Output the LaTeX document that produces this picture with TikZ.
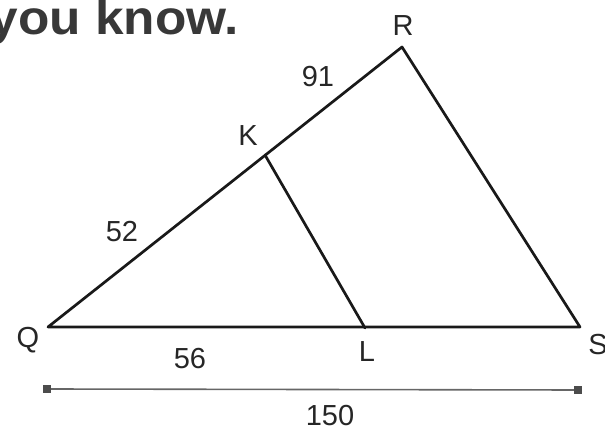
\documentclass[tikz,border=0pt]{standalone}
\usepackage{graphicx}
\usepackage{fontspec}
\setmainfont{Liberation Sans}
\begin{document}
\begin{tikzpicture}[x=1pt,y=-1pt,
  edge/.style={line width=2.7pt,color=black!90,line cap=round,line join=round},
  lbl/.style={font=\fontsize{29}{32}\selectfont,text=black!85,inner sep=0pt},
  dim/.style={line width=1.6pt,color=black!60},
  tick/.style={fill=black!70,minimum size=8pt,inner sep=0pt,draw=none}]
\useasboundingbox (0,0) rectangle (605,435);
\node[anchor=base east,inner sep=0pt,text=black!78,font=\fontsize{48}{50}\selectfont\bfseries] (title) at (239,35) {\scalebox{1.07}[1]{you know.}};
\coordinate (Q) at (48,327);
\coordinate (R) at (402,47);
\coordinate (S) at (580,327);
\coordinate (K) at (265,155);
\coordinate (L) at (365,328);
\draw[edge] (Q) -- (R) -- (S) -- cycle;
\draw[edge] (K) -- (L);
\node[lbl] (lR) at (403,26) {R};
\node[lbl] (lK) at (248,136) {K};
\node[lbl] (lQ) at (28,340) {Q};
\node[lbl] (lL) at (367,352) {L};
\node[lbl] (lS) at (598,345) {S};
\node[lbl] (l91) at (318,77) {91};
\node[lbl] (l52) at (122,232) {52};
\node[lbl] (l56) at (190,359) {56};
\node[lbl] (l150) at (330,416) {150};
\node[tick] (dA) at (47,389) {};
\node[tick] (dB) at (578,390) {};
\draw[dim] (dA) -- (dB);
\end{tikzpicture}
\end{document}
